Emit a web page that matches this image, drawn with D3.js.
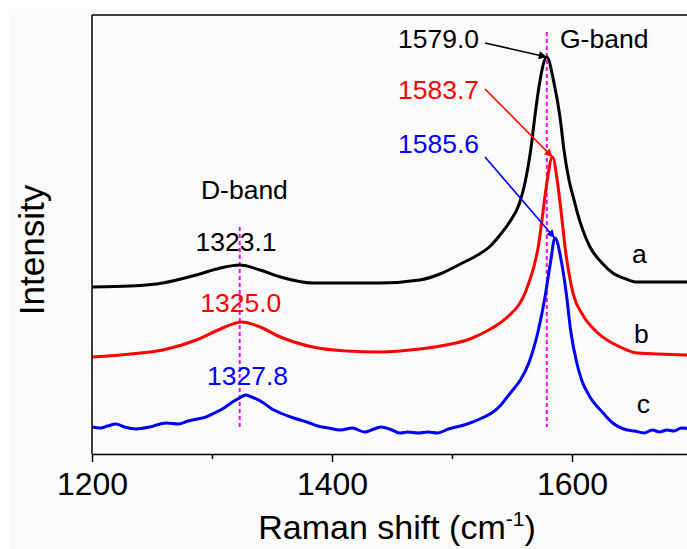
<!DOCTYPE html>
<html>
<head>
<meta charset="utf-8">
<script src="https://cdn.jsdelivr.net/npm/d3@7"></script>
<style>
  body { margin: 0; background: #fff; }
  svg { display: block; font-family: "Liberation Sans", Arial, sans-serif; }
</style>
</head>
<body>
<div id="chart"></div>
<script>

// Raman shift (cm-1) and intensity (a.u., stacked offsets as drawn)
var shiftA = [1200, 1232, 1259, 1287, 1307, 1323, 1340, 1357, 1384, 1412, 1440, 1473, 1490, 1507, 1520, 1532,
	1540, 1548, 1556, 1561, 1565.6, 1569, 1573, 1579, 1585, 1590, 1593.3, 1597.5, 1601.7, 1605, 1609, 1615,
	1625, 1634, 1645, 1654, 1670, 1700];
var intensityA = [167, 168, 171, 179, 186, 189, 184, 177, 171, 171, 171, 174, 180, 190, 198, 208,
	219, 232, 250, 272, 304, 337, 371, 397, 371, 337, 304, 274, 254, 239, 224, 207,
	191, 181, 175, 172, 172, 172];

var shiftB = [1200, 1232, 1259, 1287, 1307, 1325, 1340, 1357, 1384, 1412, 1440, 1473, 1495, 1515, 1529, 1540,
	1548, 1555, 1559, 1564, 1569, 1572, 1575.3, 1579, 1583.7, 1588, 1591.4, 1594.5, 1597, 1601, 1609, 1620.6,
	1640, 1654, 1700];
var intensityB = [97, 100, 104, 114, 125, 132, 127, 117, 107, 103, 102, 105, 109, 115, 123, 131,
	139, 148, 156, 171, 191, 208, 237, 271, 297, 271, 237, 204, 184, 160, 139, 122,
	107, 101, 99];

var shiftC = [1200, 1207, 1213, 1220, 1227, 1237, 1248, 1262, 1272, 1280, 1288, 1295, 1302, 1310, 1317, 1323,
	1328, 1333, 1343, 1350, 1357, 1368, 1379, 1388, 1397, 1407, 1417, 1427, 1435, 1441, 1450, 1457, 1463, 1472,
	1480, 1488, 1497, 1507, 1515, 1525, 1533, 1540, 1546, 1552, 1557, 1564, 1572, 1577.5, 1582, 1585.8,
	1591.4, 1595.6, 1598.8, 1604, 1608, 1615, 1626, 1634, 1646, 1652, 1660, 1667, 1673, 1679, 1685, 1691, 1700];
var intensityC = [27, 26, 28, 30, 27, 25, 27, 31, 30, 33, 35, 37, 41, 46, 52, 56,
	59, 57, 51, 45, 41, 36, 32, 28, 26, 24, 26, 22, 25, 27, 24, 21, 22, 21,
	22, 21, 25, 28, 31, 36, 41, 48, 57, 66, 74, 91, 124, 157, 191, 216,
	191, 157, 124, 91, 74, 57, 41, 31, 24, 23, 21, 24, 22, 24, 23, 26, 25];

var seriesNames = ["a", "b", "c"];
var seriesColors = ["#000000", "#ff0000", "#0000ff"];

// peak positions: G band, D band
var gPeaks = [1579.0, 1583.7, 1585.6];
var gPeakIntensity = [397, 297, 216];
var dPeaks = [1323.1, 1325.0, 1327.8];

var xTicks = [1200, 1400, 1600];
var xMinorTicks = [1300, 1500, 1700];

var margin = { top: 15, left: 92 };
var width = 600, height = 439;

var svg = d3.select("#chart").append("svg")
	.attr("width", 687)
	.attr("height", 549);

// light grey page behind the figure
svg.append("rect")
	.attr("x", 9).attr("y", 9)
	.attr("width", 700).attr("height", 560)
	.attr("fill", "#fafafa");

var g = svg.append("g")
	.attr("transform", "translate(" + margin.left + "," + margin.top + ")");

var x = d3.scaleLinear().domain([1200, 1700]).range([0, width]);
var y = d3.scaleLinear().domain([0, 439]).range([height, 0]);

g.append("defs").append("clipPath")
	.attr("id", "clip")
	.append("rect")
	.attr("width", width)
	.attr("height", height);

var defs = svg.append("defs");
seriesColors.forEach(function (c, i) {
	defs.append("marker")
		.attr("id", "arrow" + i)
		.attr("viewBox", "0 0 10 10")
		.attr("refX", 10).attr("refY", 5)
		.attr("markerWidth", 11).attr("markerHeight", 8)
		.attr("markerUnits", "userSpaceOnUse")
		.attr("orient", "auto")
		.append("path")
		.attr("d", "M0,0L10,5L0,10Z")
		.attr("fill", c);
});

// peak guide lines
g.append("line")
	.attr("x1", x(gPeaks[0])).attr("x2", x(gPeaks[0]))
	.attr("y1", y(422)).attr("y2", y(27))
	.attr("stroke", "#ff00ff").attr("stroke-width", 2)
	.attr("stroke-dasharray", "4,3");
g.append("line")
	.attr("x1", x(dPeaks[0])).attr("x2", x(dPeaks[0]))
	.attr("y1", y(227)).attr("y2", y(24))
	.attr("stroke", "#ff00ff").attr("stroke-width", 2)
	.attr("stroke-dasharray", "4,3");

// spectra
var line = d3.line()
	.x(function (d) { return x(d[0]); })
	.y(function (d) { return y(d[1]); })
	.curve(d3.curveMonotoneX);

var spectra = [
	d3.zip(shiftA, intensityA),
	d3.zip(shiftB, intensityB),
	d3.zip(shiftC, intensityC)
];

g.append("g").attr("clip-path", "url(#clip)")
	.selectAll(".spectrum")
	.data(spectra)
	.enter().append("path")
	.attr("class", "spectrum")
	.attr("fill", "none")
	.attr("stroke", function (d, i) { return seriesColors[i]; })
	.attr("stroke-width", 3)
	.attr("stroke-linejoin", "round")
	.attr("d", line);

// axes
var xAxis = d3.axisBottom(x).tickValues(xTicks).tickSize(8).tickSizeOuter(0).tickPadding(10)
	.tickFormat(d3.format("d"));
var xAxisMinor = d3.axisBottom(x).tickValues(xMinorTicks).tickSize(5).tickFormat("");

var axG = g.append("g")
	.attr("transform", "translate(0," + height + ")")
	.call(xAxis);
axG.selectAll("text")
	.attr("font-size", 32)
	.attr("font-family", "Liberation Sans, Arial, sans-serif")
	.attr("fill", "#000");
g.append("g")
	.attr("transform", "translate(0," + height + ")")
	.call(xAxisMinor)
	.select(".domain").remove();
g.selectAll(".tick line, .domain").attr("stroke", "#000").attr("stroke-width", 1.5);

// frame: left, top, right
g.append("line").attr("x1", 0).attr("x2", 0).attr("y1", 0).attr("y2", height)
	.attr("stroke", "#000").attr("stroke-width", 1.5);
g.append("line").attr("x1", 0).attr("x2", width).attr("y1", 0).attr("y2", 0)
	.attr("stroke", "#000").attr("stroke-width", 1.5);
g.append("line").attr("x1", width).attr("x2", width).attr("y1", 0).attr("y2", height)
	.attr("stroke", "#000").attr("stroke-width", 1.5);

// axis titles
var xTitle = svg.append("text")
	.attr("x", margin.left + x(1450) + 5)
	.attr("y", 539)
	.attr("text-anchor", "middle")
	.attr("font-size", 34);
xTitle.append("tspan").text("Raman shift (cm");
xTitle.append("tspan").attr("font-size", 21).attr("dy", -13).text("-1");
xTitle.append("tspan").attr("dy", 13).text(")");

svg.append("text")
	.attr("transform", "translate(44,250) rotate(-90)")
	.attr("text-anchor", "middle")
	.attr("font-size", 35)
	.text("Intensity");

// band annotations
var ann = g.append("g").attr("font-size", 26.5);

ann.append("text").attr("x", x(1590)).attr("y", y(406)).text("G-band");
ann.append("text").attr("x", x(1327)).attr("y", y(255)).attr("text-anchor", "middle").text("D-band");

var gLabelY = [406, 355, 301];
var gArrowY = [411, 365, 297];
gPeaks.forEach(function (p, i) {
	ann.append("text")
		.attr("x", x(1455)).attr("y", y(gLabelY[i]))
		.attr("fill", seriesColors[i])
		.text(p.toFixed(1));
	ann.append("line")
		.attr("x1", x(1527.5)).attr("y1", y(gArrowY[i]))
		.attr("x2", x(p)).attr("y2", y(gPeakIntensity[i]))
		.attr("stroke", seriesColors[i]).attr("stroke-width", 1.6)
		.attr("marker-end", "url(#arrow" + i + ")");
});

var dLabelX = [1320, 1324, 1329.6];
var dLabelY = [203, 142, 69];
dPeaks.forEach(function (p, i) {
	ann.append("text")
		.attr("x", x(dLabelX[i])).attr("y", y(dLabelY[i]))
		.attr("text-anchor", "middle")
		.attr("fill", seriesColors[i])
		.text(p.toFixed(1));
});

// series letters
var letterX = [1650, 1651.7, 1654];
var letterY = [191, 111, 41];
seriesNames.forEach(function (n, i) {
	ann.append("text")
		.attr("x", x(letterX[i])).attr("y", y(letterY[i]))
		.text(n);
});

</script>
</body>
</html>
